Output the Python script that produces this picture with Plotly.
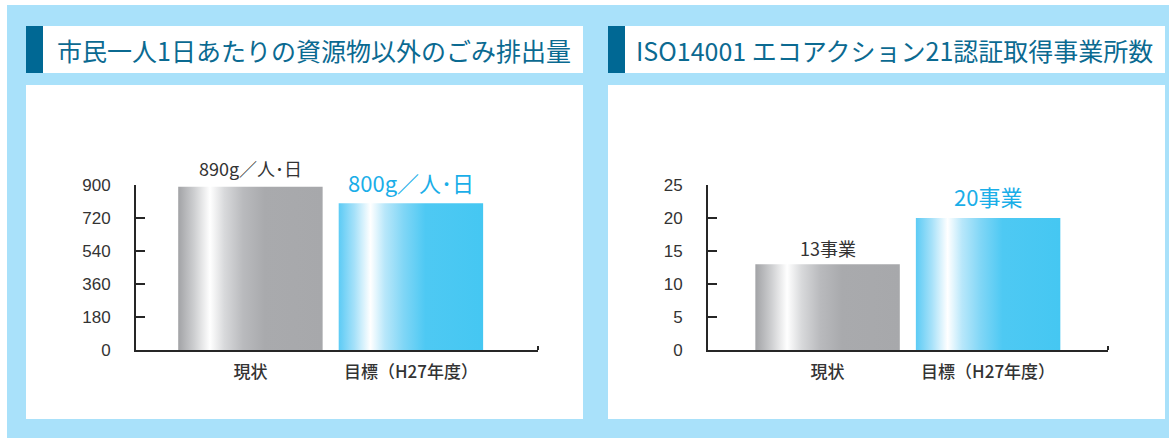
import plotly.graph_objects as go

# データ
categories = ["現状", "目標（H27年度）"]
waste_values = [890, 800]
waste_labels = ["890g／人･日", "800g／人･日"]
iso_values = [13, 20]
iso_labels = ["13事業", "20事業"]
waste_ticks = [0, 180, 360, 540, 720, 900]
iso_ticks = [0, 5, 10, 15, 20, 25]
titles = ["市民一人1日あたりの資源物以外のごみ排出量", "ISO14001 エコアクション21認証取得事業所数"]

W, H = 1169, 438
JP = "Noto Sans CJK JP"
LIGHT_BLUE = "#a9e1fa"
NAVY = "#006894"
TITLE_COLOR = "#0b6a91"
DARK = "#333333"
BLUE_TEXT = "#1aaee8"

gray_scale = [[0, "#a2a3a6"], [0.11, "#cdced0"], [0.22, "#ffffff"], [0.32, "#d8d9db"],
              [0.45, "#b9babd"], [0.6, "#a9aaad"], [1, "#a7a8ab"]]
blue_scale = [[0, "#5ccbf5"], [0.11, "#a6e1f9"], [0.22, "#ffffff"], [0.32, "#b8e7fa"],
              [0.45, "#80d6f6"], [0.6, "#4ec9f3"], [1, "#45c7f2"]]

BAR_W = 0.9

fig = go.Figure()


def add_bars(values, xref, yref):
    for i, (v, cs) in enumerate(zip(values, [gray_scale, blue_scale])):
        fig.add_trace(go.Scatter(
            x=[i - BAR_W / 2, i + BAR_W / 2], y=[v, v],
            mode="lines", fill="tozeroy", line=dict(width=0, color="rgba(0,0,0,0)"),
            fillgradient=dict(type="horizontal", colorscale=cs),
            xaxis=xref, yaxis=yref, showlegend=False, hoverinfo="skip"
        ))


add_bars(waste_values, "x", "y")
add_bars(iso_values, "x2", "y2")

y_dom = [1 - 350 / H, 1 - 185 / H]

axis_common = dict(
    showline=True, linecolor="#262626", linewidth=2, showgrid=False, zeroline=False,
    fixedrange=True,
)
cat_font = dict(size=17, family=JP, color=DARK, weight=500)
num_font = dict(size=17, family="Liberation Sans", color=DARK)

fig.update_layout(
    width=W, height=H,
    margin=dict(l=0, r=0, t=0, b=0, autoexpand=False),
    paper_bgcolor="white", plot_bgcolor="rgba(0,0,0,0)",
    showlegend=False,
    font=dict(family=JP, color=DARK),
    xaxis=dict(domain=[136 / W, 538 / W], range=[-0.713, 1.792], anchor="y",
               tickmode="array", tickvals=[0, 1], ticktext=categories, ticks="",
               tickfont=cat_font, ticklabelstandoff=6,
               minor=dict(tickvals=[1.79], ticks="inside", ticklen=4, tickwidth=2, tickcolor="#262626"),
               **axis_common),
    yaxis=dict(domain=y_dom, range=[0, 900], anchor="x",
               tickmode="array", tickvals=waste_ticks, ticks="inside", ticklen=9, tickwidth=2,
               tickcolor="#262626", tickfont=num_font, ticklabelstandoff=20, **axis_common),
    xaxis2=dict(domain=[708 / W, 1108 / W], range=[-0.745, 1.747], anchor="y2",
                tickmode="array", tickvals=[0, 1], ticktext=categories, ticks="",
                tickfont=cat_font, ticklabelstandoff=6,
                minor=dict(tickvals=[1.745], ticks="inside", ticklen=4, tickwidth=2, tickcolor="#262626"),
                **axis_common),
    yaxis2=dict(domain=y_dom, range=[0, 25], anchor="x2",
                tickmode="array", tickvals=iso_ticks, ticks="inside", ticklen=9, tickwidth=2,
                tickcolor="#262626", tickfont=num_font, ticklabelstandoff=20, **axis_common),
)

# 背景パネル
shapes = [
    dict(type="rect", xref="paper", yref="paper", x0=7 / W, x1=1, y0=0, y1=1 - 5 / H,
         fillcolor=LIGHT_BLUE, line=dict(width=0), layer="below"),
]
for x0, x1 in [(26, 583), (608, 1165)]:
    shapes.append(dict(type="rect", xref="paper", yref="paper", x0=x0 / W, x1=x1 / W,
                       y0=1 - 73 / H, y1=1 - 26 / H, fillcolor="white", line=dict(width=0), layer="below"))
    shapes.append(dict(type="rect", xref="paper", yref="paper", x0=x0 / W, x1=(x0 + 17) / W,
                       y0=1 - 73 / H, y1=1 - 26 / H, fillcolor=NAVY, line=dict(width=0), layer="below"))
    shapes.append(dict(type="rect", xref="paper", yref="paper", x0=x0 / W, x1=x1 / W,
                       y0=1 - 419 / H, y1=1 - 85 / H, fillcolor="white", line=dict(width=0), layer="below"))
fig.update_layout(shapes=shapes)

# タイトル
for tx, t in zip([55, 634], titles):
    fig.add_annotation(x=tx / W, y=1 - 50 / H, xref="paper", yref="paper", text=t,
                       showarrow=False, xanchor="left", yanchor="middle",
                       font=dict(size=25, color=TITLE_COLOR, family=JP))

# 値ラベル
for xr, yr, vals, labs, shifts in [("x", "y", waste_values, waste_labels, [4, 3]),
                                   ("x2", "y2", iso_values, iso_labels, [1, 4])]:
    for i, (v, lab) in enumerate(zip(vals, labs)):
        big = i == 1
        fig.add_annotation(x=i, y=v, xref=xr, yref=yr, text=lab, showarrow=False,
                           yanchor="bottom", yshift=shifts[i],
                           font=dict(size=22 if big else 18, color=BLUE_TEXT if big else DARK, family=JP))

fig.write_html(
    "out.html",
    config={"displayModeBar": False},
    post_script="document.body.style.margin='0';document.body.style.overflow='hidden';",
)
